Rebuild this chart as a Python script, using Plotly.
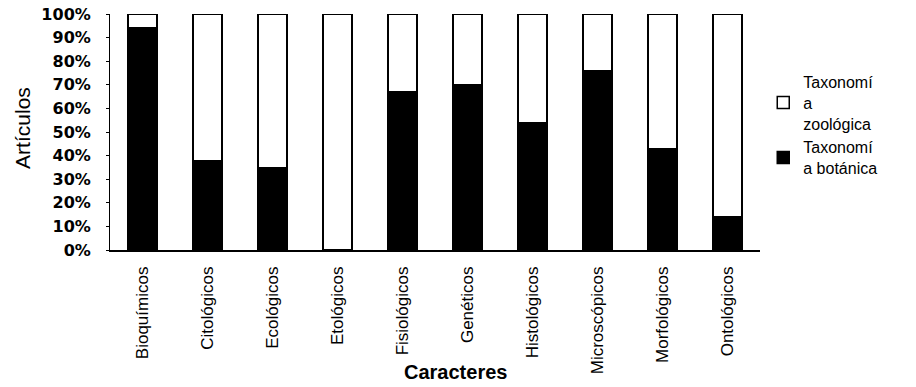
import plotly.graph_objects as go

categories = ["Bioquímicos", "Citológicos", "Ecológicos", "Etológicos", "Fisiológicos",
              "Genéticos", "Histológicos", "Microscópicos", "Morfológicos", "Ontológicos"]
botanica = [94, 38, 35, 0, 67, 70, 54, 76, 43, 14]
zoologica = [100 - v for v in botanica]
y_ticks = [0, 10, 20, 30, 40, 50, 60, 70, 80, 90, 100]
y_tick_labels = [f"{v}%" for v in y_ticks]

fig = go.Figure()
fig.add_trace(go.Bar(
    x=categories, y=botanica, name="Taxonomí<br>a botánica",
    marker=dict(color="black", line=dict(color="black", width=1.5)),
))
fig.add_trace(go.Bar(
    x=categories, y=zoologica, name="Taxonomí<br>a<br>zoológica",
    marker=dict(color="white", line=dict(color="black", width=1.5)),
))

fig.update_layout(
    barmode="stack",
    bargap=0.55,
    width=916, height=387,
    margin=dict(l=110, r=156, t=14, b=137),
    plot_bgcolor="white", paper_bgcolor="white",
    font=dict(family="Liberation Sans, Arial, sans-serif", color="black"),
    legend=dict(
        traceorder="reversed",
        x=1.005, y=0.53, xanchor="left", yanchor="middle",
        font=dict(size=16, color="black"),
        itemwidth=30, tracegroupgap=0,
        bgcolor="rgba(0,0,0,0)",
    ),
    showlegend=True,
    annotations=[
        dict(text="Artículos", xref="paper", yref="paper", x=-0.134, y=0.517,
             textangle=-90, showarrow=False, font=dict(size=21),
             xanchor="center", yanchor="middle"),
        dict(text="<b>Caracteres</b>", xref="paper", yref="paper", x=0.532, y=-0.517,
             showarrow=False, font=dict(size=20),
             xanchor="center", yanchor="middle"),
    ],
)

fig.update_yaxes(
    range=[0, 100], tickvals=y_ticks, ticktext=y_tick_labels,
    showgrid=False, showline=True, linecolor="black", linewidth=1,
    ticks="outside", ticklen=3, tickcolor="black",
    tickfont=dict(size=16, family="DejaVu Sans, sans-serif", weight="bold"),
    ticklabelstandoff=12,
    automargin=False, zeroline=False,
)
fig.update_xaxes(
    showgrid=False, showline=True, linecolor="black", linewidth=1.5,
    tickangle=-90,
    tickfont=dict(size=17, family="Liberation Sans, Arial, sans-serif"),
    ticklabelstandoff=8,
    automargin=False,
    range=[-0.5, 9.5],
)

fig.write_html("out.html", config={"displayModeBar": False},
               post_script="document.body.style.margin='0';")
